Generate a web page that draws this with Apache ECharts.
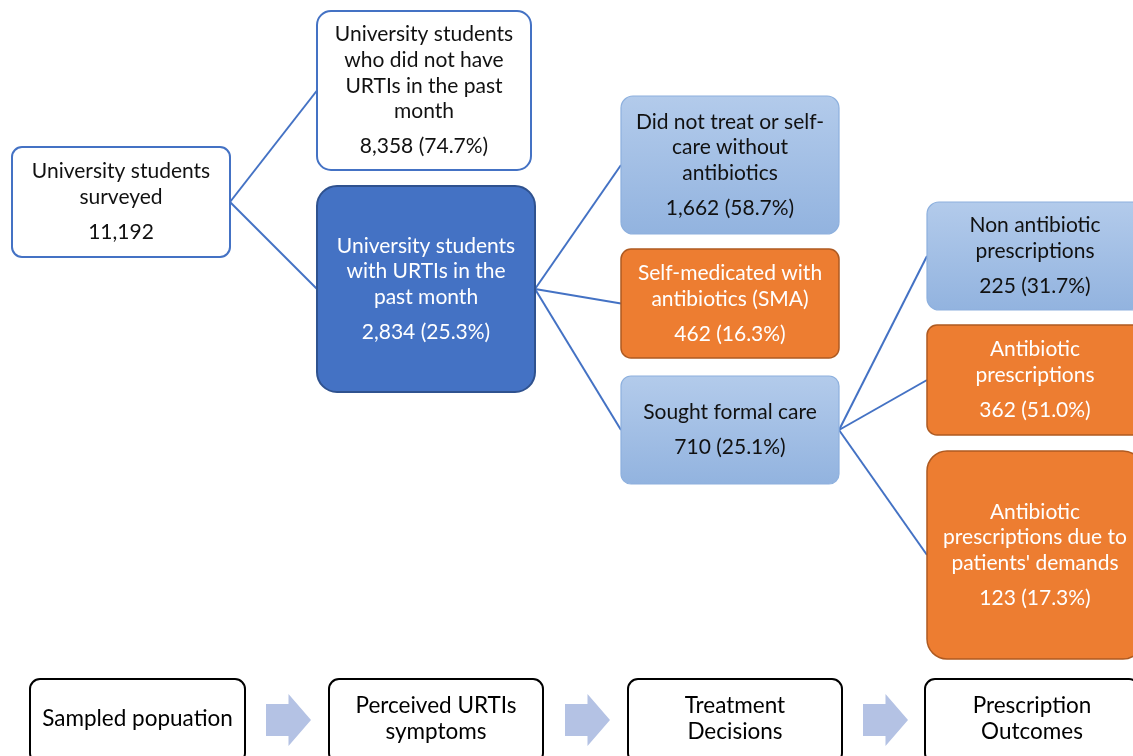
<!DOCTYPE html>
<html>
<head>
<meta charset="utf-8">
<script src="https://cdn.jsdelivr.net/npm/echarts@6/dist/echarts.min.js"></script>
<style>
html,body{margin:0;padding:0;background:#fff;}
#chart{width:1133px;height:756px;}
</style>
</head>
<body>
<div id="chart"></div>
<script>
// ---------- DATA ----------
const nodeLabels = [
  'University students\nsurveyed',
  'University students\nwho did not have\nURTIs in the past\nmonth',
  'University students\nwith URTIs in the\npast month',
  'Did not treat or self-\ncare without\nantibiotics',
  'Self-medicated with\nantibiotics (SMA)',
  'Sought formal care',
  'Non antibiotic\nprescriptions',
  'Antibiotic\nprescriptions',
  'Antibiotic\nprescriptions due to\npatients\' demands'
];
const nodeCounts = [11192, 8358, 2834, 1662, 462, 710, 225, 362, 123];
const nodePercents = [null, 74.7, 25.3, 58.7, 16.3, 25.1, 31.7, 51.0, 17.3];
const edgeSources = [0, 0, 2, 2, 2, 5, 5, 5];
const edgeTargets = [1, 2, 3, 4, 5, 6, 7, 8];
const stageLabels = ['Sampled popuation', 'Perceived URTIs\nsymptoms', 'Treatment\nDecisions', 'Prescription\nOutcomes'];

// ---------- LAYOUT (positions / sizes / styles) ----------
const W = 1133, H = 756;
const nodeBoxes = [
  [12, 147, 218, 110],
  [317, 11, 214, 159],
  [317, 186, 218, 206],
  [621, 96, 218, 138],
  [621, 249, 218, 109],
  [621, 376, 218, 108],
  [927, 202, 216, 108],
  [927, 325, 216, 110],
  [927, 451, 216, 208]
];
const nodeKinds = ['outline', 'outline', 'dark', 'light', 'orange', 'light', 'light', 'orange', 'orange'];
const nodeRadius = [10, 14, 20, 12, 10, 10, 12, 10, 20];
const stageBoxes = [
  [30, 679, 215, 84],
  [329, 679, 214, 84],
  [628, 679, 214, 84],
  [925, 679, 214, 84]
];
const arrowBoxes = [
  [266, 694, 45, 52],
  [565, 694, 45, 52],
  [863, 694, 45, 52]
];
const FONT = 'Lato, "Open Sans", "Noto Sans", sans-serif';
const FS = 21;
const STAGE_FS = 22.5;
const LINE_H = 25.7;
const VALUE_GAP = 35;

const lightGrad = new echarts.graphic.LinearGradient(0, 0, 0, 1, [
  {offset: 0, color: '#B3CBEB'},
  {offset: 1, color: '#92B3DF'}
]);
const kindStyle = {
  outline: {fill: '#FFFFFF', stroke: '#4472C4', lineWidth: 2, text: '#111111'},
  dark: {fill: '#4472C4', stroke: '#2F528F', lineWidth: 2, text: '#FFFFFF'},
  light: {fill: lightGrad, stroke: '#8DB0DE', lineWidth: 1.2, text: '#111111'},
  orange: {fill: '#ED7D31', stroke: '#AE5A21', lineWidth: 1.5, text: '#FFFFFF'}
};

function fmtCount(v) { return v.toLocaleString('en-US'); }
function valueLine(i) {
  const p = nodePercents[i];
  return fmtCount(nodeCounts[i]) + (p == null ? '' : ' (' + p.toFixed(1) + '%)');
}

function rectOf(api, b) {
  const p0 = api.coord([b[0], b[1]]);
  const p1 = api.coord([b[0] + b[2], b[1] + b[3]]);
  return {x: p0[0], y: p0[1], w: p1[0] - p0[0], h: p1[1] - p0[1]};
}

const chart = echarts.init(document.getElementById('chart'), null, {renderer: 'canvas'});

const option = {
  backgroundColor: '#FFFFFF',
  animation: false,
  grid: {left: 0, right: 0, top: 0, bottom: 0},
  xAxis: {type: 'value', min: 0, max: W, show: false},
  yAxis: {type: 'value', min: 0, max: H, inverse: true, show: false},
  series: [
    // connectors
    {
      type: 'custom',
      z: 1,
      clip: false,
      data: edgeSources.map((s, k) => [s, edgeTargets[k]]),
      renderItem: function (params, api) {
        const s = nodeBoxes[api.value(0)], t = nodeBoxes[api.value(1)];
        const a = api.coord([s[0] + s[2], s[1] + s[3] / 2]);
        const b = api.coord([t[0], t[1] + t[3] / 2]);
        return {
          type: 'line',
          shape: {x1: a[0], y1: a[1], x2: b[0], y2: b[1]},
          style: {stroke: '#4472C4', lineWidth: 2}
        };
      }
    },
    // nodes
    {
      type: 'custom',
      z: 2,
      clip: false,
      data: nodeLabels.map((l, i) => [i]),
      renderItem: function (params, api) {
        const i = api.value(0);
        const r = rectOf(api, nodeBoxes[i]);
        const st = kindStyle[nodeKinds[i]];
        const lines = nodeLabels[i].split('\n');
        const total = (lines.length - 1) * LINE_H + VALUE_GAP;
        const cx = r.x + r.w / 2, cy = r.y + r.h / 2;
        const top = cy - total / 2;
        const children = [{
          type: 'rect',
          shape: {x: r.x, y: r.y, width: r.w, height: r.h, r: nodeRadius[i]},
          style: {fill: st.fill, stroke: st.stroke, lineWidth: st.lineWidth}
        }];
        lines.forEach((ln, k) => {
          children.push({
            type: 'text',
            style: {text: ln, x: cx, y: top + k * LINE_H, align: 'center', verticalAlign: 'middle',
              fill: st.text, font: FS + 'px ' + FONT}
          });
        });
        children.push({
          type: 'text',
          style: {text: valueLine(i), x: cx, y: top + total, align: 'center', verticalAlign: 'middle',
            fill: st.text, font: FS + 'px ' + FONT}
        });
        return {type: 'group', children: children};
      }
    },
    // stage boxes
    {
      type: 'custom',
      z: 2,
      clip: false,
      data: stageLabels.map((l, i) => [i]),
      renderItem: function (params, api) {
        const i = api.value(0);
        const r = rectOf(api, stageBoxes[i]);
        const lines = stageLabels[i].split('\n');
        const cx = r.x + r.w / 2;
        const cy = api.coord([0, 719])[1];
        const top = cy - (lines.length - 1) * LINE_H / 2;
        const children = [{
          type: 'rect',
          shape: {x: r.x, y: r.y, width: r.w, height: r.h, r: 10},
          style: {fill: '#FFFFFF', stroke: '#000000', lineWidth: 2}
        }];
        lines.forEach((ln, k) => {
          children.push({
            type: 'text',
            style: {text: ln, x: cx, y: top + k * LINE_H, align: 'center', verticalAlign: 'middle',
              fill: '#000000', font: STAGE_FS + 'px ' + FONT}
          });
        });
        return {type: 'group', children: children};
      }
    },
    // arrows between stages
    {
      type: 'custom',
      z: 2,
      clip: false,
      data: arrowBoxes.map((b, i) => [i]),
      renderItem: function (params, api) {
        const r = rectOf(api, arrowBoxes[api.value(0)]);
        const bodyW = r.w * 0.5, inset = r.h * 0.19;
        const pts = [
          [r.x, r.y + inset],
          [r.x + bodyW, r.y + inset],
          [r.x + bodyW, r.y],
          [r.x + r.w, r.y + r.h / 2],
          [r.x + bodyW, r.y + r.h],
          [r.x + bodyW, r.y + r.h - inset],
          [r.x, r.y + r.h - inset]
        ];
        return {type: 'polygon', shape: {points: pts}, style: {fill: '#B4C2E4'}};
      }
    }
  ]
};
chart.setOption(option);
</script>
</body>
</html>
